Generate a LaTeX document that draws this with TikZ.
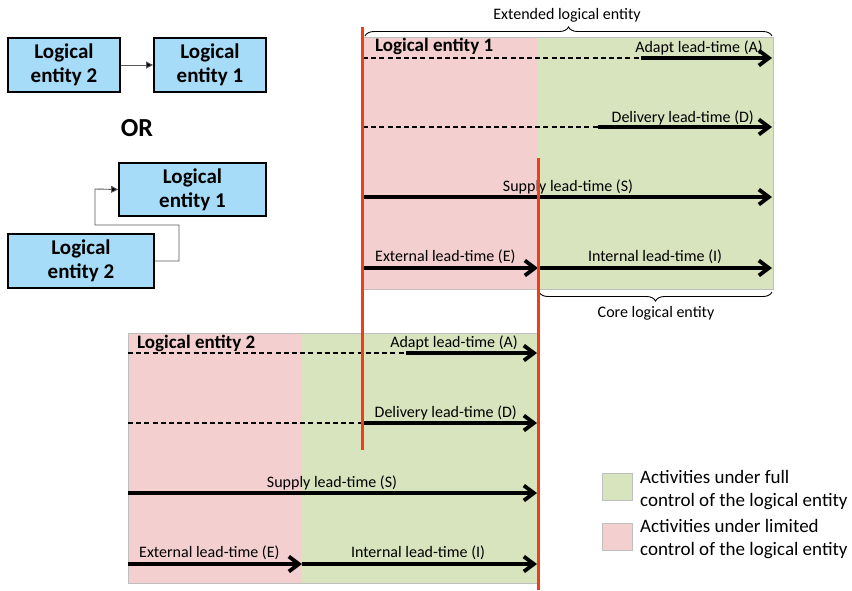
\documentclass[tikz,border=0pt]{standalone}
\usepackage{fontspec}
\setmainfont{Carlito}
\usetikzlibrary{arrows.meta,decorations.pathreplacing}
\definecolor{boxblue}{RGB}{166,220,248}
\definecolor{limited}{RGB}{244,207,207}
\definecolor{full}{RGB}{215,228,189}
\definecolor{edge}{RGB}{191,191,191}
\definecolor{marker}{RGB}{240,62,22}
\begin{document}
\begin{tikzpicture}[x=1pt,y=-1pt,
  entity/.style={draw=black,line width=1.8pt,fill=boxblue,align=center,
    font=\fontsize{21}{24}\selectfont\bfseries,inner sep=0pt},
  link/.style={draw=black!65,line width=0.9pt,-{Triangle[length=7pt,width=7pt,fill=black]}},
  lead/.style={line width=3.8pt,-{Straight Barb[length=10pt,width=15pt]}},
  pending/.style={line width=1.1pt,dash pattern=on 5pt off 3.2pt},
  lbl/.style={font=\fontsize{16}{19}\selectfont,inner sep=0pt,anchor=base},
  title/.style={font=\fontsize{19}{22}\selectfont\bfseries,inner sep=0pt,anchor=base west},
  zone/.style={draw=edge,line width=0.8pt},
  boundary/.style={draw=marker,line width=3pt},
  bracket/.style={draw=black,line width=0.9pt,decorate,decoration={brace,amplitude=9pt}},
  legendtext/.style={font=\fontsize{19}{23}\selectfont,inner sep=0pt,anchor=base west}
]
\useasboundingbox (0,0) rectangle (852,590);

% ---- two ways of linking the entities ----
\node[entity,minimum width=112pt,minimum height=54pt] (a2) at (64,65) {Logical\\entity 2};
\node[entity,minimum width=112pt,minimum height=54pt] (a1) at (210,65) {Logical\\entity 1};
\draw[link] (a2.east) -- (a1.west);

\node[font=\fontsize{26}{30}\selectfont\bfseries,inner sep=0pt] (or) at (137,128) {OR};

\node[entity,minimum width=147pt,minimum height=53pt] (b1) at (192.5,189.5) {Logical\\entity 1};
\node[entity,minimum width=146pt,minimum height=54pt] (b2) at (81,261) {Logical\\entity 2};
\draw[link] (b2.east) -| (179,225) -| (95,189) -- (b1.west);

% ---- logical entity 1 ----
\fill[limited] (362,37) rectangle (538,289);
\fill[full] (538,37) rectangle (773,289);
\draw[zone] (362,37) rectangle (773,289);

\node[title] (t1) at (375,51) {Logical entity 1};

\coordinate (pa0) at (363,58);  \coordinate (pa1) at (641,58);  \coordinate (pa2) at (772,58);
\coordinate (pd0) at (363,127); \coordinate (pd1) at (598,127); \coordinate (pd2) at (772,127);
\coordinate (ps0) at (363,197); \coordinate (ps2) at (772,197);
\coordinate (pe0) at (363,268); \coordinate (pe1) at (538,268); \coordinate (pi1) at (539,268); \coordinate (pi2) at (772,268);

\draw[pending] (pa0) -- (pa1);
\draw[lead] (pa1) -- (pa2);
\draw[pending] (pd0) -- (pd1);
\draw[lead] (pd1) -- (pd2);
\draw[lead] (ps0) -- (ps2);
\draw[lead] (pe0) -- (pe1);
\draw[lead] (pi1) -- (pi2);

\node[lbl,anchor=base east] (la1) at (763,52) {Adapt lead-time (A)};
\node[lbl,anchor=base east] (ld1) at (754,122) {Delivery lead-time (D)};
\node[lbl] (ls1) at (568,191) {Supply lead-time (S)};
\node[lbl,anchor=base west] (le1) at (375,261) {External lead-time (E)};
\node[lbl] (li1) at (655,261) {Internal lead-time (I)};

\draw[bracket] (365,36) -- (772,36);
\node[lbl] (ext) at (567,19) {Extended logical entity};
\draw[bracket] (772,292) -- (539,292);
\node[lbl] (core) at (656,317) {Core logical entity};

% ---- logical entity 2 ----
\fill[limited] (128,333) rectangle (302,583);
\fill[full] (302,333) rectangle (537,583);
\draw[zone] (128,333) rectangle (537,583);

\node[title] (t2) at (137,348) {Logical entity 2};

\coordinate (qa0) at (128,353); \coordinate (qa1) at (406,353); \coordinate (qa2) at (537,353);
\coordinate (qd0) at (128,423); \coordinate (qd1) at (362,423); \coordinate (qd2) at (537,423);
\coordinate (qs0) at (128,493); \coordinate (qs2) at (537,493);
\coordinate (qe0) at (128,564); \coordinate (qe1) at (302,564); \coordinate (qi2) at (537,564);

\draw[pending] (qa0) -- (qa1);
\draw[lead] (qa1) -- (qa2);
\draw[pending] (qd0) -- (qd1);
\draw[lead] (qd1) -- (qd2);
\draw[lead] (qs0) -- (qs2);
\draw[lead] (qe0) -- (qe1);
\draw[lead] (qe1) -- (qi2);

\node[lbl,anchor=base east] (la2) at (518,347) {Adapt lead-time (A)};
\node[lbl,anchor=base east] (ld2) at (517,417) {Delivery lead-time (D)};
\node[lbl] (ls2) at (332,487) {Supply lead-time (S)};
\node[lbl,anchor=base west] (le2) at (139,557) {External lead-time (E)};
\node[lbl] (li2) at (418,557) {Internal lead-time (I)};

% ---- entity boundaries ----
\coordinate (r1a) at (362,27);  \coordinate (r1b) at (362,450);
\coordinate (r2a) at (538,158); \coordinate (r2b) at (538,590);
\draw[boundary] (r1a) -- (r1b);
\draw[boundary] (r2a) -- (r2b);

% ---- legend ----
\node[draw=edge,line width=0.8pt,fill=full,minimum width=30pt,minimum height=27pt,inner sep=0pt] (kf) at (617,486.5) {};
\node[draw=edge,line width=0.8pt,fill=limited,minimum width=30pt,minimum height=27pt,inner sep=0pt] (kl) at (617,536.5) {};
\node[legendtext] (kf1) at (640,483) {Activities under full};
\node[legendtext] (kf2) at (640,506) {control of the logical entity};
\node[legendtext] (kl1) at (640,532) {Activities under limited};
\node[legendtext] (kl2) at (640,555) {control of the logical entity};
\end{tikzpicture}
\end{document}
